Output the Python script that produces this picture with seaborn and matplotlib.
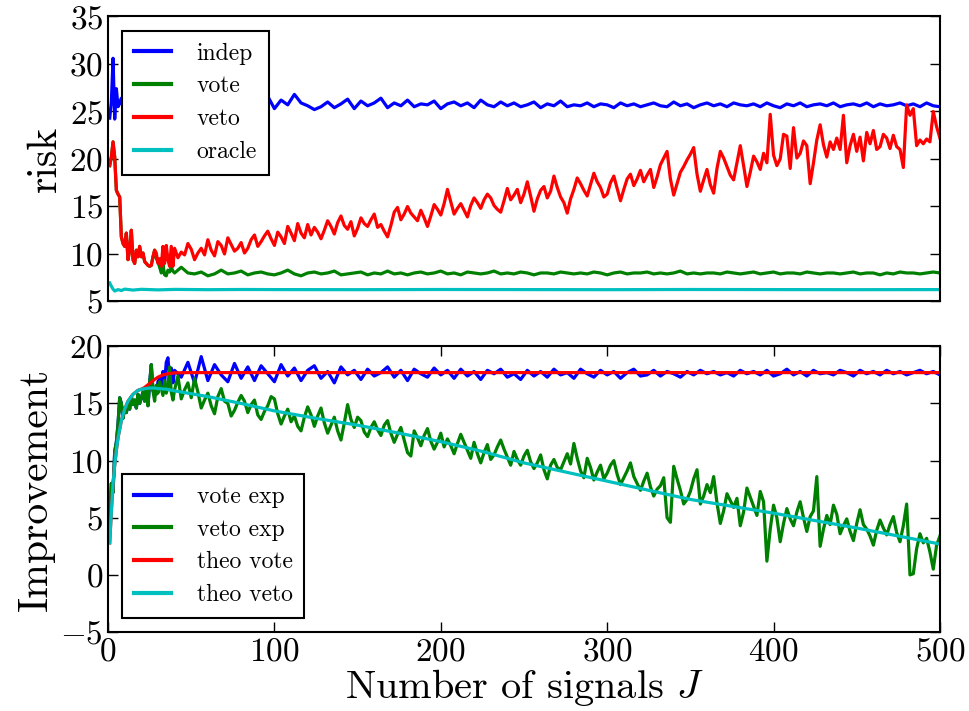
import matplotlib
matplotlib.use("Agg")
import matplotlib.pyplot as plt
import seaborn as sns

# ---------------- data ----------------
J_early = list(range(1, 41))
J_late = list(range(44, 501, 4))
J = J_early + J_late
J_fine = J_early + list(range(42, 501, 2))

# top panel: risk
veto_early = [19.3, 20.2, 21.8, 20.2, 16.7, 16.3, 16.0, 11.8, 11.1, 10.8,
              12.2, 9.4, 10.4, 12.5, 9.4, 9.0, 10.4, 9.7, 10.8, 9.7,
              10.1, 9.2, 9.0, 8.8, 8.7, 8.8, 9.7, 10.4, 10.1, 9.0,
              9.5, 8.7, 10.8, 9.0, 10.9, 9.4, 8.7, 10.8, 8.7, 10.6]
veto_late = [9.6, 10.2, 9.9, 11.1, 10.5, 9.4, 10.1, 10.6, 9.9, 11.5,
             10.4, 9.8, 11.3, 10.9, 10.0, 11.7, 11.0, 10.3, 10.6, 11.2,
             10.1, 10.6, 11.5, 12.0, 10.8, 11.3, 11.9, 12.4, 11.6, 10.9,
             12.3, 11.8, 11.1, 12.9, 12.2, 11.4, 13.2, 12.2, 11.7, 13.1,
             12.0, 12.8, 12.3, 11.6, 12.5, 13.5, 12.9, 12.1, 13.3, 14.0,
             13.0, 12.6, 13.4, 11.9, 12.7, 13.8, 13.2, 12.9, 13.6, 14.2,
             12.8, 13.1, 12.4, 11.8, 13.0, 14.4, 14.9, 13.6, 14.2, 15.0,
             14.3, 13.9, 13.5, 14.6, 13.8, 12.9, 14.0, 15.2, 14.7, 14.1,
             15.3, 16.8, 15.5, 14.2, 14.8, 15.3, 14.6, 13.9, 15.1, 15.9,
             15.4, 14.8, 15.7, 16.3, 15.9, 15.1, 14.7, 14.4, 15.6, 16.9,
             15.7, 16.2, 16.8, 15.4, 16.3, 17.6, 16.1, 14.5, 15.8, 16.7,
             17.1, 15.9, 16.6, 18.2, 17.0, 16.0, 15.4, 14.3, 15.8, 16.8,
             18.0, 17.4, 16.7, 16.1, 17.3, 18.5, 17.6, 17.0, 16.0, 16.3,
             17.5, 18.2, 16.9, 15.6, 16.8, 17.9, 18.4, 17.2, 17.9, 18.8,
             17.6, 18.3, 18.9, 17.0, 18.1, 19.4, 20.1, 20.8, 17.9, 16.2,
             17.4, 18.6, 19.2, 19.9, 20.5, 21.2, 18.4, 16.6, 17.8, 18.9,
             17.3, 16.4, 19.0, 20.8, 20.1, 19.2, 18.3, 17.8, 19.6, 21.4,
             19.3, 17.1, 18.6, 20.3, 19.7, 18.9, 20.6, 19.6, 24.7, 20.4,
             19.3, 20.0, 22.6, 22.4, 19.0, 23.3, 20.1, 20.6, 21.9, 21.4,
             17.4, 19.6, 22.0, 23.6, 21.5, 20.2, 21.8, 21.0, 22.2, 21.0,
             24.6, 19.6, 21.4, 22.6, 20.8, 22.3, 19.8, 22.8, 21.6, 23.0,
             21.0, 21.3, 22.6, 22.2, 21.1, 22.5, 21.3, 21.0, 19.1, 25.7,
             24.6, 25.3, 21.4, 22.0, 21.6, 22.1, 21.8, 25.0, 23.4, 22.2]

vote_early = veto_early[:28] + [9.5, 9.2, 8.6, 8.0, 8.9, 7.8, 7.7, 8.3,
                                8.1, 8.6, 8.2, 8.0]
vote_late = [8.6, 8.0, 7.9, 8.1, 7.7, 7.9, 8.3, 7.9, 8.0, 8.2,
             7.8, 8.0, 8.1, 7.9, 7.8, 8.0, 8.3, 7.9, 7.7, 8.0,
             8.1, 7.9, 8.0, 8.2, 7.8, 7.9, 8.0, 8.1, 7.8, 8.0,
             7.9, 8.2, 7.9, 8.0, 7.8, 8.0, 8.1, 7.9, 8.0, 8.2,
             7.9, 8.0, 7.8, 8.1, 8.0, 7.9, 8.0, 8.2, 7.9, 8.0,
             7.9, 8.1, 8.0, 7.8, 8.0, 8.0, 7.9, 8.1, 8.0, 7.9,
             8.0, 7.9, 8.1, 8.0, 7.8, 8.0, 8.1, 7.9, 8.0, 8.0,
             8.1, 7.9, 8.0, 7.9, 8.0, 8.2, 7.9, 8.0, 7.9, 8.0,
             8.0, 7.9, 8.1, 8.0, 7.9, 8.0, 8.1, 7.9, 8.0, 8.1,
             7.9, 8.0, 8.0, 7.9, 8.1, 8.0, 7.9, 8.0, 8.0, 7.9,
             8.0, 8.1, 7.9, 8.0, 8.0, 7.8, 8.0, 7.9, 8.1, 8.0,
             8.0, 7.9, 8.0, 8.1, 8.0]

indep_early = [24.3, 26.0, 30.6, 24.2, 27.4, 25.5,
               25.9, 26.4, 25.3, 26.1, 25.7, 26.5, 25.6, 26.0, 25.4, 26.2,
               25.8, 26.3, 25.5, 25.9, 26.1, 25.6, 26.4, 25.7, 26.0, 25.5,
               26.2, 25.8, 25.4, 26.1, 25.9, 26.3, 25.6, 25.8, 26.0, 25.5,
               26.2, 25.7, 25.9, 26.1]
indep_late = [25.9, 26.2, 25.5, 26.0, 25.7, 26.3, 25.6, 25.9, 26.1, 25.5,
              25.8, 26.1, 25.4, 26.6, 25.3, 26.2, 25.7, 26.8, 25.9, 25.6,
              25.2, 25.5, 26.0, 25.4, 25.8, 26.3, 25.3, 26.1, 25.6, 25.9,
              26.4, 25.4, 25.9, 25.6, 26.2, 25.5, 25.8, 25.7, 26.1, 25.3,
              25.8, 26.0, 25.6, 25.9, 25.4, 26.2, 25.7, 25.5, 26.0, 25.6,
              25.9, 25.5, 25.7, 26.0, 25.4, 25.8, 25.6, 26.1, 25.5, 25.7,
              25.6, 25.9, 25.5, 25.8, 25.7, 25.4, 25.9, 25.6, 25.8, 25.5,
              25.7, 25.9, 25.6, 25.5, 26.0, 25.6, 25.8, 25.4, 25.7, 25.9,
              25.6, 25.8, 25.5, 25.9, 25.7, 25.6, 25.8, 25.5, 25.9, 25.6,
              25.4, 25.8, 25.6, 25.9, 25.5, 25.7, 25.8, 25.6, 25.9, 25.5,
              25.7, 25.8, 25.6, 25.9, 25.5, 25.8, 25.6, 25.7, 25.9, 25.6,
              25.8, 25.5, 25.9, 25.6, 25.5]

J_oracle = [1, 2, 3, 4, 6, 8, 10, 15, 20, 30, 40, 60, 80, 100, 150,
            200, 250, 300, 350, 400, 450, 500]
oracle = [6.95, 6.6, 6.3, 6.1, 6.25, 6.15, 6.3, 6.2, 6.28, 6.22, 6.27,
          6.24, 6.26, 6.25, 6.24, 6.26, 6.25, 6.24, 6.26, 6.25, 6.24, 6.25]

# bottom panel: improvement
vetoexp_early = [4.8, 8.0, 7.2, 10.8, 11.6, 13.2, 15.5, 15.0, 13.7, 14.6,
                 14.2, 15.0, 14.5, 15.6, 14.9, 15.3, 14.6, 15.8, 15.0, 15.5,
                 16.0, 15.2, 16.4, 14.8, 16.8, 18.4, 16.1, 15.2, 16.6, 15.9,
                 16.9, 16.3, 15.7, 17.0, 15.9, 16.5, 18.2, 16.0, 15.3, 16.2]
vetoexp_late = [17.4, 15.4, 16.2, 16.8, 15.5, 17.2, 16.0, 14.6, 15.3, 15.9,
                14.8, 14.1, 15.6, 16.3, 15.2, 15.0, 13.9, 14.4, 15.1, 15.7,
                15.2, 14.2, 14.9, 15.3, 14.0, 13.6, 14.3, 14.8, 15.6, 15.4,
                14.1, 13.2, 13.9, 14.5, 13.4, 13.9, 13.0, 12.6, 13.8, 14.7,
                14.0, 13.0, 13.9, 14.6, 13.3, 12.4, 13.1, 13.8, 12.6, 11.8,
                13.3, 14.9, 13.6, 12.9, 13.8, 13.5, 12.5, 12.1, 12.9, 13.4,
                12.7, 12.2, 13.1, 13.5, 12.4, 11.6, 12.3, 12.9, 11.8, 10.7,
                10.4, 12.6, 12.0, 11.3, 12.2, 12.8, 11.7, 11.0, 11.6, 12.4,
                11.2, 11.9, 11.3, 10.6, 11.5, 12.3, 11.6, 10.9, 10.2, 11.6,
                10.6, 9.8, 10.7, 11.4, 10.1, 10.5, 11.2, 11.8, 11.0, 10.3,
                9.6, 10.8, 10.1, 9.6, 10.4, 10.9, 9.9, 9.3, 9.8, 10.5,
                9.2, 8.4, 9.6, 10.1, 9.4, 9.2, 9.9, 10.6, 9.7, 11.5,
                10.2, 9.1, 8.5, 10.2, 9.4, 8.3, 9.0, 9.6, 8.4, 8.9,
                9.6, 10.0, 8.8, 7.9, 8.5, 9.1, 9.8, 8.6, 8.0, 7.4,
                8.2, 8.9, 7.7, 6.9, 7.5, 7.8, 8.5, 5.0, 4.6, 9.5,
                8.4, 7.4, 6.2, 6.6, 7.3, 8.4, 9.2, 6.2, 6.9, 7.9,
                7.2, 8.6, 6.3, 4.5, 5.6, 7.1, 6.5, 5.9, 6.7, 4.3,
                5.5, 7.6, 6.8, 6.0, 5.2, 7.3, 6.4, 1.2, 4.0, 6.1,
                5.0, 2.9, 4.5, 5.8, 4.9, 4.3, 5.5, 6.4, 5.0, 3.8,
                5.1, 5.6, 8.6, 2.5, 4.0, 5.2, 4.4, 6.1, 5.3, 3.6,
                4.3, 4.9, 3.8, 3.0, 4.5, 5.7, 4.4, 4.0, 3.4, 2.6,
                3.9, 4.8, 4.1, 3.5, 4.4, 5.1, 3.7, 2.9, 4.3, 6.2,
                0.0, 0.1, 2.3, 3.6, 2.8, 3.2, 2.0, 0.5, 2.6, 3.4]

voteexp_early = vetoexp_early[:27] + [16.0, 15.8, 16.9, 17.2, 16.4, 17.8,
                                      16.9, 18.6, 19.0, 17.2, 18.1, 16.8, 17.9]
voteexp_late = [17.3, 18.6, 16.8, 19.1, 17.0, 18.4, 17.5, 16.9, 18.5, 17.2,
                18.2, 17.0, 18.3, 17.6, 16.9, 18.4, 17.4, 18.1, 17.0, 17.9,
                18.3, 17.2, 17.8, 16.8, 18.2, 17.5, 17.9, 17.1, 18.0, 17.4,
                17.7, 18.2, 17.3, 17.9, 17.0, 18.0, 17.6, 17.3, 18.1, 17.5,
                17.9, 17.2, 18.0, 17.4, 17.8, 17.1, 17.9, 17.6, 18.0, 17.3,
                17.6, 17.1, 17.9, 17.4, 17.8, 17.3, 18.0, 17.5, 17.7, 17.2,
                18.0, 17.6, 17.3, 17.9, 17.5, 17.8, 17.2, 17.7, 18.0, 17.4,
                17.5, 17.9, 17.4, 17.8, 17.6, 17.3, 17.8, 17.5, 17.9, 17.6,
                17.8, 17.5, 17.7, 17.4, 17.9, 17.6, 17.8, 17.5, 17.9, 17.4,
                17.6, 18.0, 17.5, 17.8, 17.4, 17.9, 17.6, 17.7, 17.5, 17.9,
                17.7, 17.4, 17.9, 17.6, 17.8, 17.5, 17.9, 17.6, 17.8, 17.5,
                17.7, 17.9, 17.6, 17.8, 17.5]

J_theo_veto = [1, 2, 3, 4, 5, 6, 8, 10, 12, 15, 18, 20, 22, 25, 28, 30, 35,
               40, 50, 60, 80, 100, 125, 150, 175, 200, 225, 250, 275, 300,
               325, 350, 375, 400, 425, 450, 475, 500]
theo_veto = [2.8, 5.6, 8.0, 9.6, 10.9, 12.0, 13.5, 14.5, 15.2, 15.8, 16.15,
             16.25, 16.3, 16.35, 16.35, 16.3, 16.25, 16.1, 15.85, 15.6, 15.0,
             14.35, 13.7, 13.1, 12.4, 11.66, 10.8, 9.8, 9.0, 8.2, 7.4, 6.6,
             6.0, 5.4, 4.75, 4.1, 3.4, 2.7]

J_theo_vote = [1, 2, 3, 4, 5, 6, 8, 10, 12, 15, 18, 20, 22, 25, 28, 30, 33,
               36, 40, 50, 100, 200, 300, 400, 500]
theo_vote = [2.8, 5.6, 8.0, 9.6, 10.9, 12.0, 13.5, 14.5, 15.2, 15.8, 16.15,
             16.25, 16.4, 16.75, 17.1, 17.3, 17.5, 17.6, 17.68, 17.7, 17.7,
             17.7, 17.7, 17.7, 17.7]

# ---------------- style ----------------
plt.rcParams.update({
    "font.family": "serif",
    "font.serif": ["cmr10"],
    "mathtext.fontset": "cm",
    "axes.formatter.use_mathtext": True,
    "axes.unicode_minus": True,
    "axes.linewidth": 1.5,
})

fig = plt.figure(figsize=(9.69, 7.11), dpi=100)
ax1 = fig.add_axes([0.1115, 0.576, 0.8585, 0.4008])
ax2 = fig.add_axes([0.1115, 0.1111, 0.8585, 0.4018], sharex=ax1)

LW = 2.3
sns.lineplot(x=J, y=indep_early + indep_late, color="b", lw=LW, label="indep",
             estimator=None, sort=False, ax=ax1)
sns.lineplot(x=J, y=vote_early + vote_late, color="g", lw=LW, label="vote",
             estimator=None, sort=False, ax=ax1)
sns.lineplot(x=J_fine, y=veto_early + veto_late, color="r", lw=LW,
             label="veto", estimator=None, sort=False, ax=ax1)
sns.lineplot(x=J_oracle, y=oracle, color="c", lw=LW, label="oracle",
             estimator=None, sort=False, ax=ax1)

sns.lineplot(x=J, y=voteexp_early + voteexp_late, color="b", lw=LW,
             label="vote exp", estimator=None, sort=False, ax=ax2)
sns.lineplot(x=J_fine, y=vetoexp_early + vetoexp_late, color="g", lw=LW,
             label="veto exp", estimator=None, sort=False, ax=ax2)
sns.lineplot(x=J_theo_vote, y=theo_vote, color="r", lw=LW, label="theo vote",
             estimator=None, sort=False, ax=ax2)
sns.lineplot(x=J_theo_veto, y=theo_veto, color="c", lw=LW, label="theo veto",
             estimator=None, sort=False, ax=ax2)

ax1.set_xlim(0, 500)
ax1.set_ylim(5, 35)
ax1.set_yticks([5, 10, 15, 20, 25, 30, 35])
ax2.set_ylim(-5, 20)
ax2.set_yticks([-5, 0, 5, 10, 15, 20])
ax2.set_xticks([0, 100, 200, 300, 400, 500])

ax1.tick_params(axis="x", which="both", bottom=False, top=False,
                labelbottom=False)
ax1.tick_params(axis="y", direction="in", left=True, right=True, length=7,
                width=1, labelsize=24)
ax2.tick_params(axis="both", direction="in", left=True, right=True,
                top=True, bottom=True, length=7, width=1, labelsize=24)
ax2.tick_params(axis="x", pad=4)

ax1.set_ylabel("risk", fontsize=30, labelpad=4)
ax2.set_ylabel("Improvement", fontsize=30, labelpad=4)
ax2.set_xlabel("Number of signals $J$", fontsize=29, labelpad=0)
ax1.set_xlabel("")

for ax, loc in ((ax1, "upper left"), (ax2, "lower left")):
    leg = ax.legend(loc=loc, fontsize=17, frameon=True, fancybox=False,
                    handlelength=1.55, handletextpad=1.1, labelspacing=0.45,
                    borderpad=0.5, borderaxespad=0.6)
    leg.get_frame().set_edgecolor("black")
    leg.get_frame().set_linewidth(1.5)
    leg.get_frame().set_alpha(1.0)
    for line in leg.get_lines():
        line.set_linewidth(3)

fig.savefig("out.png", dpi=100)
